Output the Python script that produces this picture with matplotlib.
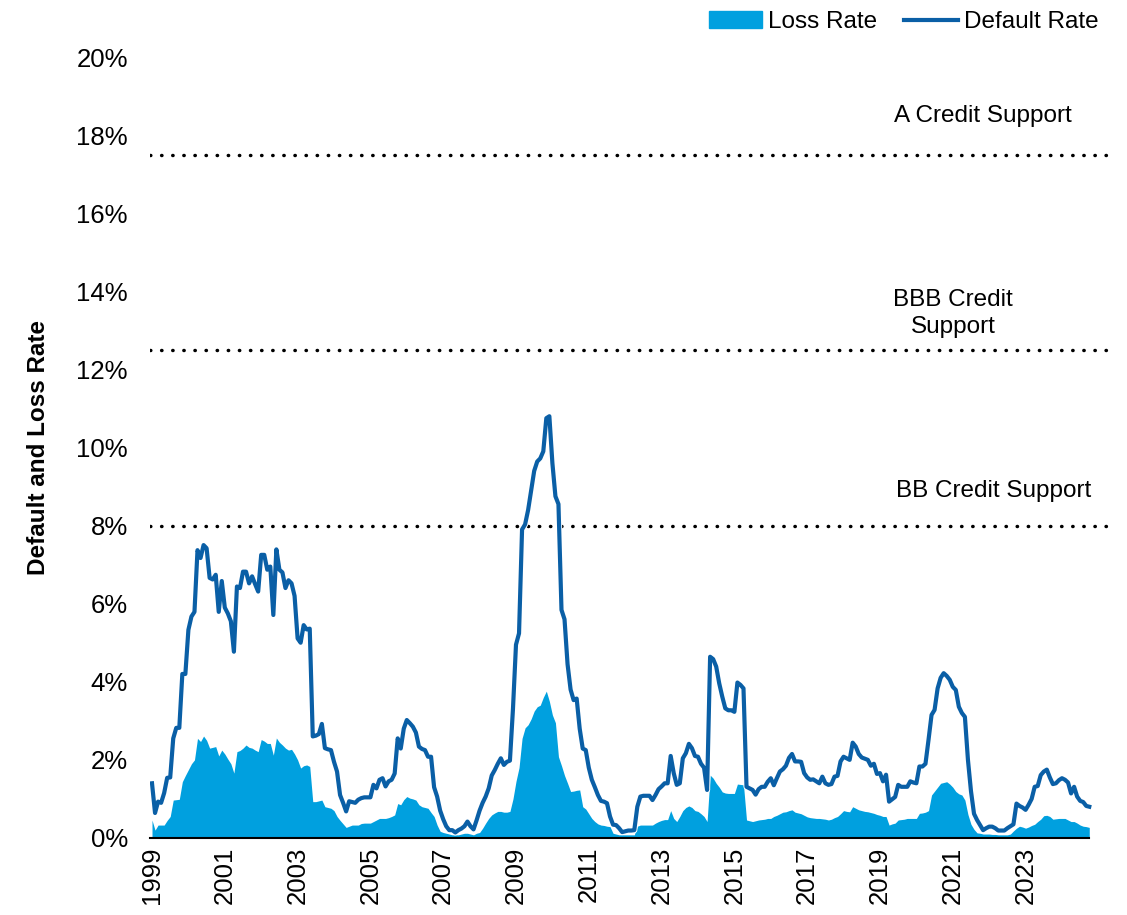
import numpy as np
import matplotlib.pyplot as plt
import matplotlib.patheffects as pe
from matplotlib.lines import Line2D
from matplotlib.patches import Patch

plt.rcParams['font.family'] = ['Liberation Sans', 'DejaVu Sans']

# Tasa de default mensual (%), ene-1999 a oct-2024, una fila por año
default_rate = [
    1.40, 0.64, 0.93, 0.90, 1.15, 1.54, 1.55, 2.55, 2.82, 2.82, 4.20, 4.20,  # 1999
    5.33, 5.67, 5.79, 7.37, 7.17, 7.50, 7.42, 6.66, 6.62, 6.74, 5.79, 6.58,  # 2000
    5.90, 5.75, 5.55, 4.77, 6.44, 6.40, 6.82, 6.82, 6.52, 6.70, 6.50, 6.31,  # 2001
    7.25, 7.25, 6.87, 6.95, 5.71, 7.39, 6.87, 6.80, 6.40, 6.60, 6.52, 6.20,  # 2002
    5.11, 5.00, 5.45, 5.34, 5.36, 2.60, 2.62, 2.66, 2.92, 2.30, 2.27, 2.25,  # 2003
    1.95, 1.70, 1.10, 0.90, 0.68, 0.94, 0.92, 0.90, 0.98, 1.02, 1.04, 1.04,  # 2004
    1.04, 1.36, 1.27, 1.49, 1.53, 1.32, 1.45, 1.49, 1.65, 2.55, 2.29, 2.80,  # 2005
    3.02, 2.94, 2.85, 2.70, 2.34, 2.28, 2.25, 2.08, 2.08, 1.30, 1.06, 0.70,  # 2006
    0.48, 0.30, 0.20, 0.20, 0.14, 0.20, 0.24, 0.30, 0.42, 0.30, 0.22, 0.45,  # 2007
    0.70, 0.90, 1.06, 1.27, 1.60, 1.74, 1.90, 2.04, 1.87, 1.95, 1.98, 3.30,  # 2008
    4.95, 5.24, 7.90, 8.03, 8.40, 8.90, 9.40, 9.64, 9.72, 9.90, 10.75, 10.80,  # 2009
    9.60, 8.75, 8.55, 5.84, 5.60, 4.45, 3.80, 3.53, 3.57, 2.80, 2.29, 2.25,  # 2010
    1.80, 1.49, 1.30, 1.10, 0.95, 0.93, 0.89, 0.55, 0.34, 0.33, 0.25, 0.15,  # 2011
    0.17, 0.19, 0.19, 0.20, 0.80, 1.06, 1.08, 1.08, 1.08, 0.97, 1.10, 1.25,  # 2012
    1.32, 1.40, 1.40, 2.10, 1.66, 1.36, 1.40, 2.04, 2.17, 2.41, 2.30, 2.10,  # 2013
    2.08, 1.90, 1.80, 1.23, 4.64, 4.58, 4.39, 3.96, 3.62, 3.32, 3.27, 3.27,  # 2014
    3.23, 3.98, 3.92, 3.83, 1.31, 1.27, 1.23, 1.11, 1.25, 1.31, 1.31, 1.44,  # 2015
    1.53, 1.35, 1.53, 1.70, 1.76, 1.85, 2.05, 2.15, 1.96, 1.96, 1.95, 1.66,  # 2016
    1.55, 1.49, 1.50, 1.45, 1.40, 1.57, 1.40, 1.36, 1.38, 1.57, 1.59, 1.96,  # 2017
    2.08, 2.04, 2.00, 2.44, 2.34, 2.15, 2.06, 2.03, 2.00, 1.85, 1.90, 1.64,  # 2018
    1.66, 1.45, 1.62, 0.93, 0.99, 1.05, 1.36, 1.31, 1.31, 1.31, 1.45, 1.42,  # 2019
    1.40, 1.83, 1.83, 1.90, 2.51, 3.15, 3.28, 3.83, 4.10, 4.22, 4.15, 4.05,  # 2020
    3.87, 3.79, 3.36, 3.20, 3.10, 2.00, 1.20, 0.62, 0.46, 0.33, 0.20, 0.25,  # 2021
    0.29, 0.29, 0.25, 0.19, 0.19, 0.19, 0.25, 0.30, 0.35, 0.88, 0.82, 0.78,  # 2022
    0.72, 0.85, 1.00, 1.31, 1.33, 1.61, 1.70, 1.75, 1.55, 1.38, 1.40, 1.48,  # 2023
    1.53, 1.49, 1.42, 1.14, 1.31, 1.06, 0.95, 0.92, 0.82, 0.80,              # 2024
]

# Tasa de pérdida mensual (%)
loss_rate = [
    0.46, 0.20, 0.33, 0.33, 0.33, 0.45, 0.55, 0.97, 0.98, 0.99, 1.44, 1.60,  # 1999
    1.75, 1.90, 2.00, 2.55, 2.47, 2.61, 2.50, 2.30, 2.32, 2.34, 2.10, 2.25,  # 2000
    2.15, 2.02, 1.90, 1.66, 2.21, 2.24, 2.30, 2.38, 2.32, 2.30, 2.25, 2.21,  # 2001
    2.52, 2.48, 2.42, 2.42, 2.12, 2.56, 2.45, 2.38, 2.30, 2.25, 2.27, 2.15,  # 2002
    2.00, 1.79, 1.85, 1.87, 1.83, 0.93, 0.93, 0.95, 0.97, 0.80, 0.78, 0.76,  # 2003
    0.70, 0.55, 0.45, 0.36, 0.27, 0.30, 0.33, 0.33, 0.33, 0.37, 0.38, 0.38,  # 2004
    0.38, 0.42, 0.46, 0.50, 0.50, 0.50, 0.52, 0.55, 0.59, 0.88, 0.85, 0.98,  # 2005
    1.06, 1.02, 1.00, 0.97, 0.85, 0.80, 0.78, 0.76, 0.65, 0.55, 0.33, 0.17,  # 2006
    0.14, 0.12, 0.10, 0.08, 0.08, 0.08, 0.10, 0.12, 0.12, 0.10, 0.08, 0.12,  # 2007
    0.14, 0.25, 0.38, 0.50, 0.59, 0.64, 0.68, 0.68, 0.66, 0.66, 0.68, 1.00,  # 2008
    1.45, 1.80, 2.55, 2.82, 2.90, 3.05, 3.25, 3.36, 3.40, 3.60, 3.76, 3.50,  # 2009
    3.15, 2.95, 2.08, 1.85, 1.60, 1.40, 1.19, 1.20, 1.22, 1.23, 0.80, 0.74,  # 2010
    0.62, 0.50, 0.42, 0.36, 0.33, 0.32, 0.30, 0.29, 0.12, 0.10, 0.08, 0.08,  # 2011
    0.08, 0.08, 0.08, 0.08, 0.30, 0.33, 0.33, 0.33, 0.33, 0.33, 0.38, 0.42,  # 2012
    0.45, 0.47, 0.47, 0.70, 0.50, 0.42, 0.55, 0.70, 0.78, 0.82, 0.78, 0.70,  # 2013
    0.68, 0.62, 0.55, 0.42, 1.61, 1.53, 1.40, 1.30, 1.18, 1.15, 1.14, 1.14,  # 2014
    1.14, 1.38, 1.37, 1.36, 0.46, 0.44, 0.42, 0.44, 0.46, 0.47, 0.48, 0.50,  # 2015
    0.50, 0.55, 0.58, 0.62, 0.66, 0.67, 0.70, 0.72, 0.66, 0.64, 0.62, 0.58,  # 2016
    0.54, 0.52, 0.51, 0.50, 0.50, 0.49, 0.48, 0.46, 0.48, 0.52, 0.55, 0.62,  # 2017
    0.70, 0.68, 0.67, 0.80, 0.76, 0.72, 0.70, 0.68, 0.67, 0.65, 0.63, 0.60,  # 2018
    0.58, 0.55, 0.55, 0.33, 0.36, 0.38, 0.46, 0.47, 0.48, 0.50, 0.50, 0.50,  # 2019
    0.50, 0.63, 0.64, 0.66, 0.70, 1.10, 1.20, 1.30, 1.40, 1.42, 1.44, 1.38,  # 2020
    1.30, 1.19, 1.13, 1.10, 0.97, 0.60, 0.35, 0.22, 0.13, 0.12, 0.10, 0.10,  # 2021
    0.10, 0.09, 0.09, 0.08, 0.08, 0.08, 0.08, 0.10, 0.18, 0.25, 0.30, 0.28,  # 2022
    0.25, 0.28, 0.32, 0.35, 0.42, 0.48, 0.57, 0.58, 0.55, 0.48, 0.49, 0.50,  # 2023
    0.50, 0.50, 0.46, 0.42, 0.42, 0.38, 0.33, 0.30, 0.29, 0.27,              # 2024
]

# Niveles de soporte crediticio (%)
support_levels = [17.5, 12.5, 8.0]
support_labels = ['A Credit Support', 'BBB Credit\nSupport', 'BB Credit Support']

year_labels = [str(y) for y in range(1999, 2024, 2)]

meses = np.arange(len(default_rate))

fig = plt.figure(figsize=(11.27, 9.15), dpi=100)
ax = fig.add_axes([0.1331, 0.0842, 0.8563, 0.8535])

azul_claro = '#00a0df'
azul_oscuro = '#0a5fa6'

ax.fill_between(meses, loss_rate, 0, color=azul_claro, linewidth=0, zorder=2)
ax.plot(meses, default_rate, color=azul_oscuro, lw=3.0, zorder=3,
        solid_joinstyle='round',
        path_effects=[pe.Stroke(linewidth=4.4, foreground='white'), pe.Normal()])

for nivel in support_levels:
    ax.plot([-0.66, 317.5], [nivel, nivel], color='black', lw=2.5,
            linestyle=(0, (0.1, 3.1)), dash_capstyle='round', zorder=1)

ax.text(244.6, 18.49, support_labels[0], fontsize=17.5, ha='left', va='center')
ax.text(264.1, 13.42, support_labels[1], fontsize=17.5, ha='center', va='center',
        linespacing=1.3)
ax.text(245.3, 8.89, support_labels[2], fontsize=17.5, ha='left', va='center')

ax.set_xlim(-0.66, 317.5)
ax.set_ylim(0, 20)
ax.set_yticks(np.arange(0, 21, 2))
ax.set_yticklabels([f'{v}%' for v in range(0, 21, 2)], fontsize=18.5)
ax.set_xticks(np.arange(0, 289, 24))
ax.set_xticklabels(year_labels, rotation=90, fontsize=18.5)
ax.tick_params(axis='y', length=0, pad=16)
ax.tick_params(axis='x', length=0, pad=6)

for lado in ['top', 'right', 'left']:
    ax.spines[lado].set_visible(False)
ax.spines['bottom'].set_bounds(-0.66, 309)
ax.spines['bottom'].set_linewidth(1.5)

ax.set_ylabel('Default and Loss Rate', fontsize=17.5, fontweight='bold', labelpad=19)

handles = [Patch(color=azul_claro), Line2D([0], [0], color=azul_oscuro, lw=3.0)]
fig.legend(handles, ['Loss Rate', 'Default Rate'], loc='upper right',
           bbox_to_anchor=(0.979, 0.993), ncol=2, frameon=False, fontsize=17.5,
           handlelength=2.2, handletextpad=0.25, columnspacing=1.1,
           borderaxespad=0, borderpad=0.2)

fig.savefig('out.png', dpi=100)
